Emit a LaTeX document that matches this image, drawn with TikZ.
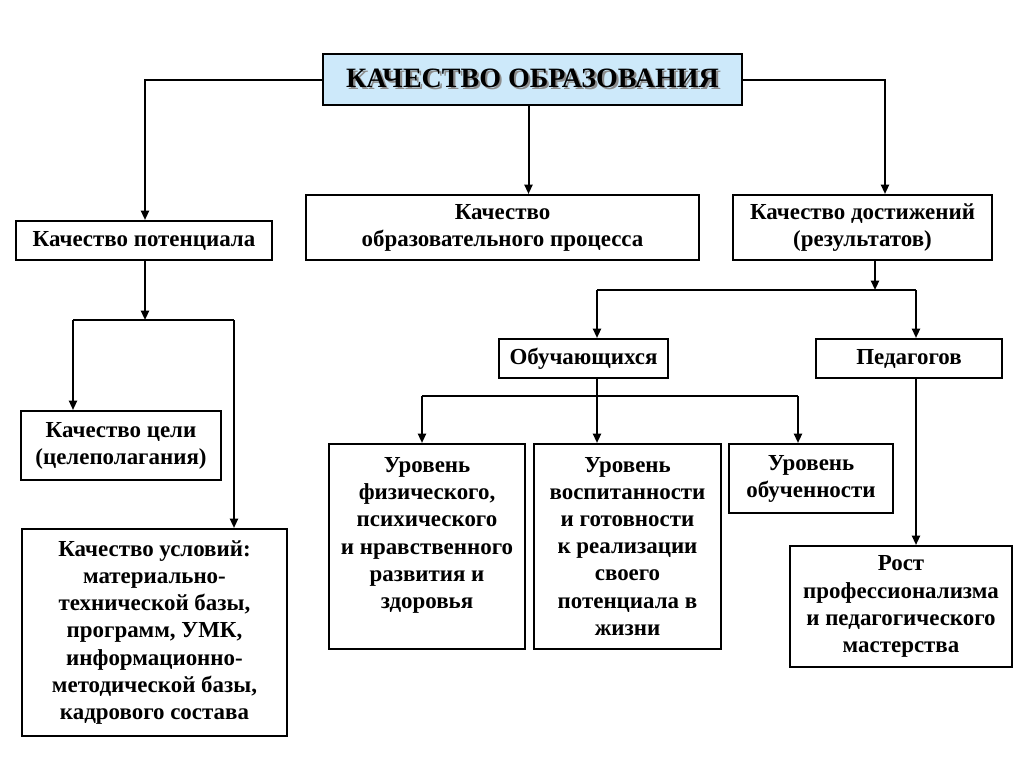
\documentclass[tikz,border=0pt]{standalone}
\usepackage{fontspec}
\setmainfont{Liberation Serif}
\usetikzlibrary{arrows.meta,calc}
\definecolor{titleblue}{RGB}{205,233,250}
\tikzset{
  box/.style={draw=black, line width=1.5pt, inner sep=0pt, anchor=north west,
    font=\bfseries\fontsize{17.2}{20.3}\selectfont, align=center},
  conn/.style={line width=1.5pt, -{Triangle[length=7pt,width=6pt]}},
  bar/.style={line width=1.5pt},
}
\newcommand\bx[6]{\node[box, minimum width={(#4-#2)*0.75pt}, minimum height={(#5-#3)*0.75pt}] (#1) at (#2,#3) {#6};}
\newcommand\shadowed[1]{\makebox[0pt][l]{\hspace{1.6pt}\raisebox{-1.6pt}{\color{black!45}#1}}#1}
\begin{document}
\begin{tikzpicture}[x=0.75pt,y=-0.75pt]
\useasboundingbox (0,0) rectangle (1024,768);
% boxes
\node[box, fill=titleblue, minimum width={(741-322)*0.75pt}, minimum height={(104-53)*0.75pt},
  font=\bfseries\fontsize{21}{24}\selectfont] (title) at (322,53) {\shadowed{КАЧЕСТВО ОБРАЗОВАНИЯ}};
\bx{pot}{15}{220}{271}{259}{Качество потенциала}
\bx{proc}{305}{194}{698}{259}{Качество\\образовательного процесса}
\bx{ach}{732}{194}{991}{259}{Качество достижений\\(результатов)}
\bx{stud}{498}{338}{667}{377}{Обучающихся}
\bx{ped}{815}{338}{1001}{377}{Педагогов}
\bx{goal}{20}{410}{220}{479}{Качество цели\\(целеполагания)}
\bx{cond}{21}{528}{286}{735}{Качество условий:\\материально-\\технической базы,\\программ, УМК,\\информационно-\\методической базы,\\кадрового состава}
\bx{phys}{328}{443}{524}{648}{Уровень\\физического,\\психического\\и нравственного\\развития и\\здоровья\\\mbox{}}
\bx{educ}{533}{443}{720}{648}{Уровень\\воспитанности\\и готовности\\к реализации\\своего\\потенциала в\\жизни}
\bx{learn}{728}{443}{892}{512}{Уровень\\обученности}
\bx{prof}{789}{545}{1011}{666}{Рост\\профессионализма\\и педагогического\\мастерства}
% junction coordinates
\coordinate (t0) at ($(title.south)+(-4,0)$);
\coordinate (j1) at (145,320);
\coordinate (jL) at (73,320);
\coordinate (jR) at (234,320);
\coordinate (j2) at (875,290);
\coordinate (kL) at (597,290);
\coordinate (kR) at (916,290);
\coordinate (mL) at (422,396);
\coordinate (mR) at (798,396);
% connectors
\draw[conn] (title.west) -| ($(pot.north west)+(130,0)$);
\draw[conn] (t0) -- (t0 |- proc.north);
\draw[conn] (title.east) -| ($(ach.north west)+(153,0)$);
\draw[conn] ($(pot.south west)+(130,0)$) -- (j1);
\draw[bar] (jL) -- (jR);
\draw[conn] (jL) -- (jL |- goal.north);
\draw[conn] (jR) -- (jR |- cond.north);
\draw[conn] ($(ach.south west)+(143,0)$) -- (j2);
\draw[bar] (kL) -- (kR);
\draw[conn] (kL) -- (kL |- stud.north);
\draw[conn] (kR) -- (kR |- ped.north);
\draw[conn] (kL |- stud.south) -- (kL |- educ.north);
\draw[bar] (mL) -- (mR);
\draw[conn] (mL) -- (mL |- phys.north);
\draw[conn] (mR) -- (mR |- learn.north);
\draw[conn] (kR |- ped.south) -- (kR |- prof.north);
\end{tikzpicture}
\end{document}
